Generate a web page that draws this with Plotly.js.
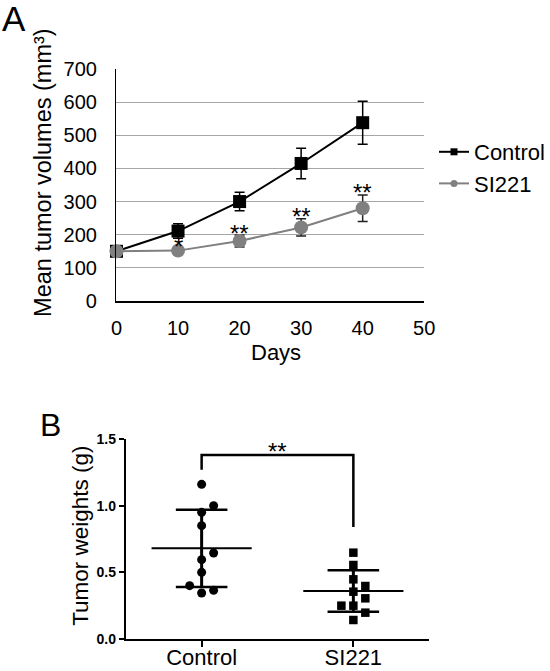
<!DOCTYPE html>
<html>
<head>
<meta charset="utf-8">
<script src="https://cdn.plot.ly/plotly-3.0.1.min.js"></script>
<style>html,body{margin:0;padding:0;background:#fff;}#chart{width:550px;height:671px;}</style>
</head>
<body>
<div id="chart"></div>
<script>
// ---- Panel A data ----
const days = [0, 10, 20, 30, 40];
const controlVol = [150, 211, 300, 415, 538];
const controlErr = [5, 22, 28, 46, 65];
const si221Vol = [150, 152, 181, 222, 280];
const si221Err = [5, 5, 18, 26, 40];
const starLabels = ['', '*', '**', '**', '**'];
const seriesNames = ['Control', 'SI221'];

// ---- Panel B data ----
const groups = ['Control', 'SI221'];
const controlWeights = [1.16, 1.00, 0.95, 0.85, 0.645, 0.595, 0.50, 0.40, 0.345, 0.365];
const controlSlots = [0, 1, 0, 0, 1, 0, 0, -1, 0, 1];
const si221Weights = [0.6475, 0.555, 0.4475, 0.3975, 0.355, 0.305, 0.25, 0.25, 0.1975, 0.1425];
const si221Slots = [0, 0, 0, 1, 0, 1, -1, 0, 1, 0];
const groupMeans = [0.68, 0.36];
const groupSDs = [0.29, 0.155];
const bracketLevels = {left: 1.27, top: 1.38, right: 0.84};
const bracketLabel = '**';

const FONT = 'Liberation Sans, Arial, sans-serif';
const GRAY = '#808080';
const slotStep = 0.079;
const meanHalf = 0.33, sdHalf = 0.17;

const traces = [];
traces.push({
  x: days, y: controlVol, name: seriesNames[0], type: 'scatter', mode: 'lines+markers', showlegend: false,
  line: {color: '#000', width: 2}, marker: {symbol: 'square', size: 13, color: '#000'},
  error_y: {type: 'data', array: controlErr, visible: true, color: '#000', thickness: 1.5, width: 5},
  cliponaxis: false, xaxis: 'x', yaxis: 'y'
});
traces.push({
  x: days, y: si221Vol, name: seriesNames[1], type: 'scatter', mode: 'lines+markers', showlegend: false,
  line: {color: GRAY, width: 2}, marker: {symbol: 'circle', size: 14, color: GRAY},
  error_y: {type: 'data', array: si221Err, visible: true, color: '#222', thickness: 1.5, width: 5},
  cliponaxis: false, xaxis: 'x', yaxis: 'y'
});
// legend entries (small symbols as in the reference)
traces.push({x: [null], y: [null], name: seriesNames[0], type: 'scatter', mode: 'lines+markers',
  line: {color: '#000', width: 2}, marker: {symbol: 'square', size: 7, color: '#000'}, xaxis: 'x', yaxis: 'y'});
traces.push({x: [null], y: [null], name: seriesNames[1], type: 'scatter', mode: 'lines+markers',
  line: {color: GRAY, width: 2}, marker: {symbol: 'circle', size: 7, color: GRAY}, xaxis: 'x', yaxis: 'y'});

// Panel B scatter points
traces.push({
  x: controlWeights.map((v, i) => 0 + controlSlots[i] * slotStep), y: controlWeights,
  type: 'scatter', mode: 'markers', showlegend: false, cliponaxis: false,
  marker: {symbol: 'circle', size: 9, color: '#000'}, xaxis: 'x2', yaxis: 'y2'
});
traces.push({
  x: si221Weights.map((v, i) => 1 + si221Slots[i] * slotStep), y: si221Weights,
  type: 'scatter', mode: 'markers', showlegend: false, cliponaxis: false,
  marker: {symbol: 'square', size: 8.5, color: '#000'}, xaxis: 'x2', yaxis: 'y2'
});
// mean & SD lines
groupMeans.forEach((m, i) => {
  const sd = groupSDs[i];
  traces.push({x: [i - meanHalf, i + meanHalf], y: [m, m], type: 'scatter', mode: 'lines', showlegend: false,
    line: {color: '#000', width: 2}, xaxis: 'x2', yaxis: 'y2', hoverinfo: 'skip'});
  traces.push({x: [i - sdHalf, i + sdHalf], y: [m + sd, m + sd], type: 'scatter', mode: 'lines', showlegend: false,
    line: {color: '#000', width: 2.5}, xaxis: 'x2', yaxis: 'y2', hoverinfo: 'skip'});
  traces.push({x: [i - sdHalf, i + sdHalf], y: [m - sd, m - sd], type: 'scatter', mode: 'lines', showlegend: false,
    line: {color: '#000', width: 2.5}, xaxis: 'x2', yaxis: 'y2', hoverinfo: 'skip'});
  traces.push({x: [i, i], y: [m - sd, m + sd], type: 'scatter', mode: 'lines', showlegend: false,
    line: {color: '#000', width: 3}, xaxis: 'x2', yaxis: 'y2', hoverinfo: 'skip'});
});
// significance bracket
traces.push({x: [0, 0, 1, 1], y: [bracketLevels.left, bracketLevels.top, bracketLevels.top, bracketLevels.right],
  type: 'scatter', mode: 'lines', showlegend: false, line: {color: '#000', width: 2.5},
  xaxis: 'x2', yaxis: 'y2', hoverinfo: 'skip'});

const annotations = [];
days.forEach((d, i) => {
  if (!starLabels[i]) return;
  annotations.push({x: d, y: si221Vol[i] + si221Err[i], xref: 'x', yref: 'y', text: starLabels[i],
    showarrow: false, xanchor: 'center', yanchor: 'middle', yshift: 2, font: {family: FONT, size: 24, color: '#000'}});
});
annotations.push({x: 0.5, y: bracketLevels.top, xref: 'x2', yref: 'y2', text: bracketLabel, showarrow: false,
  xanchor: 'center', yanchor: 'middle', yshift: 4, font: {family: FONT, size: 24, color: '#000'}});
annotations.push({x: 43 / 550, y: 1 - 172 / 671, xref: 'paper', yref: 'paper', text: 'Mean tumor volumes (mm³)',
  textangle: -90, showarrow: false, xanchor: 'center', yanchor: 'middle', font: {family: FONT, size: 23.5, color: '#000'}});
annotations.push({x: 277 / 550, y: 1 - 352 / 671, xref: 'paper', yref: 'paper', text: 'Days', showarrow: false,
  xanchor: 'center', yanchor: 'middle', font: {family: FONT, size: 22, color: '#000'}});
annotations.push({x: 80 / 550, y: 1 - 536 / 671, xref: 'paper', yref: 'paper', text: 'Tumor weights (g)',
  textangle: -90, showarrow: false, xanchor: 'center', yanchor: 'middle', font: {family: FONT, size: 22.5, color: '#000'}});
annotations.push({x: 0.0, y: 1.0, xref: 'paper', yref: 'paper', text: 'A', showarrow: false,
  xanchor: 'left', yanchor: 'top', yshift: 3, font: {family: FONT, size: 35, color: '#000'}});
annotations.push({x: 38 / 550, y: 1 - 405 / 671, xref: 'paper', yref: 'paper', text: 'B', showarrow: false,
  xanchor: 'left', yanchor: 'top', font: {family: FONT, size: 32, color: '#000'}});

const layout = {
  width: 550, height: 671, margin: {l: 0, r: 0, t: 0, b: 0},
  paper_bgcolor: '#fff', plot_bgcolor: '#fff',
  font: {family: FONT, color: '#000'},
  showlegend: true,
  legend: {x: 0.79, y: 1 - 131 / 671, xanchor: 'left', yanchor: 'top', bgcolor: 'rgba(0,0,0,0)',
    font: {family: FONT, size: 22, color: '#000'}, tracegroupgap: 0, itemwidth: 30},
  xaxis: {domain: [116.7 / 550, 425 / 550], range: [0, 50], dtick: 10, showgrid: false, zeroline: false,
    showline: true, linecolor: '#000', linewidth: 1.5, ticks: '', ticklabelstandoff: 8,
    tickfont: {family: FONT, size: 20, color: '#000'}, anchor: 'y'},
  yaxis: {domain: [1 - 301 / 671, 1 - 69 / 671], range: [0, 700], dtick: 100, showgrid: true,
    gridcolor: '#a6a6a6', gridwidth: 1.2, zeroline: false, showline: true, linecolor: '#000', linewidth: 1.5,
    ticks: '', ticklabelstandoff: 14, tickfont: {family: FONT, size: 20, color: '#000'}, anchor: 'x'},
  xaxis2: {domain: [126 / 550, 430 / 550], range: [-0.5, 1.5], tickvals: [0, 1], ticktext: groups,
    showgrid: false, zeroline: false, showline: true, linecolor: '#000', linewidth: 2,
    ticks: 'outside', ticklen: 6, tickwidth: 2, tickcolor: '#000', ticklabelstandoff: -8,
    tickfont: {family: FONT, size: 22, color: '#000'}, anchor: 'y2'},
  yaxis2: {domain: [1 - 639 / 671, 1 - 439 / 671], range: [0, 1.5], dtick: 0.5, tickformat: '.1f',
    showgrid: false, zeroline: false, showline: true, linecolor: '#000', linewidth: 2,
    ticks: 'outside', ticklen: 5, tickwidth: 2, tickcolor: '#000',
    tickfont: {family: FONT, size: 14, color: '#000', weight: 'bold'}, anchor: 'x2'},
  annotations: annotations
};

Plotly.newPlot('chart', traces, layout, {displayModeBar: false, staticPlot: true});
</script>
</body>
</html>
